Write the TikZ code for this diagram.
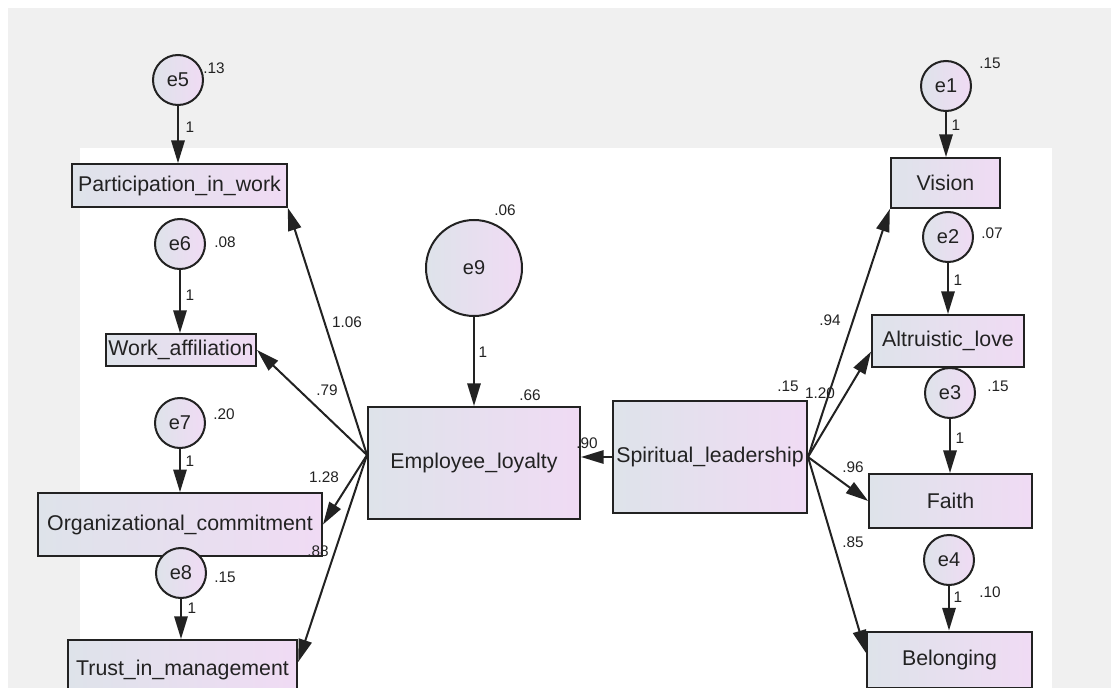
\documentclass[tikz,border=0pt]{standalone}
\usepackage{fontspec}
\setmainfont{Liberation Sans}
\usetikzlibrary{arrows.meta}

\definecolor{canvas}{HTML}{F0F0F0}
\definecolor{boxleft}{HTML}{DEE3EA}
\definecolor{boxright}{HTML}{F0DBF4}
\definecolor{ink}{HTML}{222222}

\begin{document}
\begin{tikzpicture}[
    x=0.75pt, y=-0.75pt,
    obs/.style={rectangle, draw=ink, line width=1.5pt, left color=boxleft, right color=boxright, inner sep=0pt, text=ink, font=\fontsize{16}{18}\selectfont},
    err/.style={circle, draw=ink, line width=1.5pt, left color=boxleft, right color=boxright, inner sep=0pt, minimum size=37.5pt, text=ink, font=\fontsize{15}{18}\selectfont},
    est/.style={inner sep=0pt, text=ink, font=\fontsize{11.5}{13}\selectfont},
    arr/.style={-{Triangle[length=17pt, width=10pt]}, line width=1.5pt, draw=ink}
]
% page and white plotting area
\useasboundingbox (0,0) rectangle (1111,688);
\clip (0,0) rectangle (1111,688);
\fill[canvas] (8,8) rectangle (1111,688);
\fill[white] (80,148) rectangle (1052,688);

% observed variables
\node[obs, minimum width=161pt, minimum height=32pt] (pw) at (179.5,185.5) {Participation\_in\_work};
\node[obs, minimum width=112.5pt, minimum height=24pt] (wa) at (181,350) {Work\_affiliation};
\node[obs, minimum width=213pt, minimum height=47pt] (oc) at (180,524.5) {Organizational\_commitment};
\node[obs, minimum width=172pt, minimum height=45pt] (tm) at (182.5,670) {Trust\_in\_management};
\node[obs, minimum width=159pt, minimum height=84pt] (el) at (474,463) {Employee\_loyalty};
\node[obs, minimum width=145.5pt, minimum height=84pt] (sl) at (710,457) {Spiritual\_leadership};
\node[obs, minimum width=82pt, minimum height=37.5pt] (vi) at (945.5,183) {Vision};
\node[obs, minimum width=114pt, minimum height=39pt] (al) at (948,341) {Altruistic\_love};
\node[obs, minimum width=122pt, minimum height=40.5pt] (fa) at (950.5,501) {Faith};
\node[obs, minimum width=124pt, minimum height=42pt] (be) at (949.5,659.5) {Belonging};

% error terms
\node[err] (e5) at (178,80) {e5};
\node[err] (e6) at (180,244) {e6};
\node[err] (e7) at (180,423) {e7};
\node[err] (e8) at (181,573) {e8};
\node[err, minimum size=72pt] (e9) at (474,268) {e9};
\node[err] (e1) at (946,86) {e1};
\node[err] (e2) at (948,237) {e2};
\node[err] (e3) at (950,393) {e3};
\node[err] (e4) at (949,560) {e4};

% error paths
\draw[arr] (e5) -- (e5 |- pw.north);
\draw[arr] (e6) -- (e6 |- wa.north);
\draw[arr] (e7) -- (e7 |- oc.north);
\draw[arr] (e8) -- (e8 |- tm.north);
\draw[arr] (e9) -- (e9 |- el.north);
\draw[arr] (e1) -- (e1 |- vi.north);
\draw[arr] (e2) -- (e2 |- al.north);
\draw[arr] (e3) -- (e3 |- fa.north);
\draw[arr] (e4) -- (e4 |- be.north);

% structural paths
\coordinate (elw) at ([yshift=6pt]el.west);
\draw[arr] (elw) -- (pw.south east);
\draw[arr] (elw) -- (wa.east);
\draw[arr] (elw) -- (oc.east);
\draw[arr] (elw) -- ([yshift=6pt]tm.east);
\draw[arr] (sl.west) -- (sl.west -| el.east);
\draw[arr] (sl.east) -- (vi.south west);
\draw[arr] (sl.east) -- ([yshift=-8pt]al.west);
\draw[arr] (sl.east) -- (fa.west);
\draw[arr] (sl.east) -- ([yshift=5pt]be.west);

% variances
\node[est] (v5) at (214,68) {.13};
\node[est] (v6) at (225,242) {.08};
\node[est] (v7) at (224,414) {.20};
\node[est] (v8) at (225,577) {.15};
\node[est] (v9) at (505,210) {.06};
\node[est] (vel) at (530,395) {.66};
\node[est] (vsl) at (788,386) {.15};
\node[est] (v1) at (990,63) {.15};
\node[est] (v2) at (992,233) {.07};
\node[est] (v3) at (998,386) {.15};
\node[est] (v4) at (990,592) {.10};

% weights
\node[est] (w5) at (190,127) {1};
\node[est] (w6) at (190,295) {1};
\node[est] (w7) at (190,461) {1};
\node[est] (w8) at (192,608) {1};
\node[est] (w9) at (483,352) {1};
\node[est] (w1) at (956,125) {1};
\node[est] (w2) at (958,280) {1};
\node[est] (w3) at (960,438) {1};
\node[est] (w4) at (958,597) {1};
\node[est] (wpw) at (347,322) {1.06};
\node[est] (wwa) at (327,390) {.79};
\node[est] (woc) at (324,477) {1.28};
\node[est] (wtm) at (318,551) {.88};
\node[est] (wel) at (587,443) {.90};
\node[est] (wvi) at (830,320) {.94};
\node[est] (wal) at (820,393) {1.20};
\node[est] (wfa) at (853,467) {.96};
\node[est] (wbe) at (853,542) {.85};
\end{tikzpicture}
\end{document}
